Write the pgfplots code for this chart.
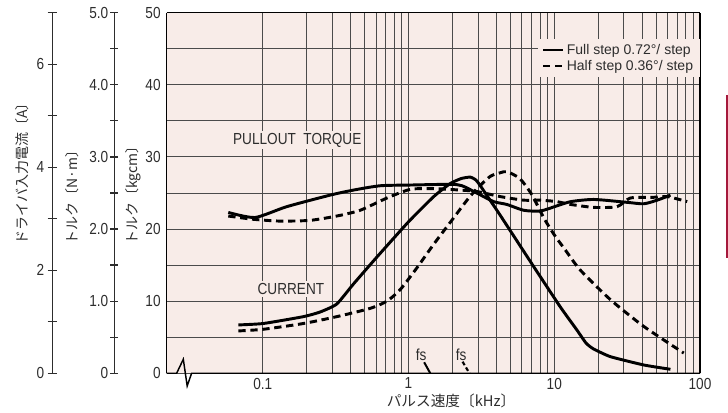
\documentclass[border=0pt]{standalone}
\usepackage{fontspec}
\setmainfont{Liberation Sans}
\newfontfamily\narrow{Liberation Sans}[FakeStretch=0.85]
\newfontfamily\jp{Noto Sans CJK JP}
\usepackage{pgfplots}
\pgfplotsset{compat=1.18}
\definecolor{chartbg}{RGB}{248,236,232}
\definecolor{gridc}{RGB}{75,75,75}
\definecolor{txt}{RGB}{45,45,45}
\definecolor{tabred}{RGB}{165,25,60}

\newcommand{\ticksize}{\narrow\fontsize{12}{12}\selectfont}
\newcommand{\jpsize}{\jp\fontsize{10.5}{12}\selectfont}

\begin{document}
\begin{tikzpicture}
\useasboundingbox (0pt,0pt) rectangle (546pt,309.75pt);

% current axis [A]
\begin{axis}[
  at={(39.2pt,29.8pt)}, anchor=south west,
  scale only axis, width=1pt, height=270.45pt,
  xmin=0, xmax=1, ymin=0, ymax=7,
  hide x axis, axis y line=left,
  axis line style={-, line width=0.9pt, txt},
  ytick={0,2,4,6}, minor ytick={1,3,5,7},
  tick align=center, major tick length=7pt, minor tick length=7pt,
  tick style={line width=0.9pt, txt},
  tick label style={font=\ticksize, text=txt},
  yticklabel style={xshift=1pt},
  /pgf/number format/assume math mode=true,
]
\addplot[draw=none] coordinates {(0,0)};
\end{axis}

% torque axis [N m]
\begin{axis}[
  at={(85.7pt,29.8pt)}, anchor=south west,
  scale only axis, width=1pt, height=270.45pt,
  xmin=0, xmax=1, ymin=0, ymax=5,
  hide x axis, axis y line=left,
  axis line style={-, line width=0.9pt, txt},
  ytick={0,1,2,3,4,5}, yticklabels={0,1.0,2.0,3.0,4.0,5.0},
  minor ytick={0.5,1.5,2.5,3.5,4.5},
  tick align=center, major tick length=6pt, minor tick length=6pt,
  tick style={line width=0.9pt, txt},
  tick label style={font=\ticksize, text=txt},
  yticklabel style={xshift=2pt},
]
\addplot[draw=none] coordinates {(0,0)};
\end{axis}

% main axis [kgcm]
\begin{axis}[
  at={(125pt,29.8pt)}, anchor=south west,
  scale only axis, width=400pt, height=270.45pt,
  xmode=log, xmin=0.02191, xmax=100, ymin=0, ymax=50,
  axis background/.style={fill=chartbg},
  xtick={0.1,1,10,100}, xticklabels={0.1,1,10,100},
  minor xtick={0.2,0.3,0.4,0.5,0.6,0.7,0.8,0.9,2,3,4,5,6,7,8,9,20,30,40,50,60,70,80,90},
  ytick={0,10,20,30,40,50}, minor ytick={5,15,25,35,45},
  grid=both,
  major grid style={gridc, line width=0.65pt},
  minor grid style={gridc, line width=0.65pt},
  major tick length=0pt, minor tick length=0pt,
  tick label style={font=\ticksize, text=txt},
  yticklabel style={xshift=-1pt},
  /pgf/number format/assume math mode=true,
  separate axis lines,
  x axis line style={draw=none},
  y axis line style={line width=1.1pt},
  clip=false,
  legend style={at={(1,0.929)}, anchor=north east, fill=chartbg, draw=none,
    font=\fontsize{10.5}{12}\selectfont, text=txt,
    inner xsep=3pt, inner ysep=2pt, row sep=-1pt, cells={anchor=west}},
  legend image code/.code={\draw[#1, line width=1.6pt] (0pt,0pt) -- (15pt,0pt);},
]
% pullout torque, full step
\addplot[black, line width=2.2pt, smooth, tension=0.4] coordinates {
(0.058,22.3) (0.0885,21.6) (0.146,23.1) (0.29,24.7) (0.419,25.4) (0.64,26.0)
(1.03,26.1) (1.93,26.2) (2.33,26.0) (3.0,24.9) (3.84,23.8) (4.74,23.4)
(6.17,22.6) (8.03,22.5) (10.4,23.2) (13.0,23.8) (18.7,24.1) (31.6,23.7)
(41.1,23.5) (50.8,24.0) (62.7,24.7)};
% pullout torque, half step
\addplot[black, line width=2.2pt, dash pattern=on 5.5pt off 3.5pt, smooth, tension=0.4] coordinates {
(0.058,21.8) (0.086,21.35) (0.131,21.1) (0.211,21.2) (0.322,21.8) (0.466,22.6)
(0.711,24.3) (1.03,25.5) (1.49,25.6) (2.26,25.4) (2.95,25.2) (4.26,24.5)
(6.17,24.0) (8.03,24.0) (10.4,23.8) (13.0,23.4) (18.7,23.0) (27.0,23.1)
(33.3,24.3) (48.2,24.4) (59.5,24.5) (81.7,23.8)};
% current, full step
\addplot[black, line width=2.2pt, smooth, tension=0.3, forget plot] coordinates {
(0.068,6.7) (0.101,6.9) (0.19,7.85) (0.248,8.5) (0.322,9.6) (0.42,12.4)
(0.6,16.0) (1.0,21.0) (1.49,24.5) (1.93,26.3) (2.3,27.0) (2.65,27.2)
(2.9,26.8) (3.11,26.0) (4.26,21.9) (7.22,14.8) (11.0,9.2) (14.3,6.0)
(16.5,4.2) (18.5,3.4) (24.3,2.3) (41.1,1.15) (62.7,0.55)};
% current, half step
\addplot[black, line width=2.2pt, dash pattern=on 5.5pt off 3.5pt, smooth, tension=0.4, forget plot] coordinates {
(0.068,5.87) (0.101,6.1) (0.19,6.9) (0.322,7.85) (0.546,9.0) (0.711,10.0)
(0.877,11.6) (1.14,14.6) (1.49,17.9) (1.93,20.9) (2.52,24.0) (2.95,25.6)
(3.64,27.3) (4.26,27.8) (4.74,27.95) (5.8,27.0) (7.0,24.8) (8.5,21.5)
(10.0,19.2) (12.0,17.0) (15.1,14.3) (24.3,10.2) (41.1,6.5) (77.4,2.8)};
% fs leaders
\addplot[black, line width=1.5pt, forget plot] coordinates {(1.28,1.53) (1.41,0)};
\addplot[black, line width=1.6pt, dash pattern=on 3pt off 2pt, forget plot] coordinates {(2.35,1.6) (2.62,0)};
\legend{Full step 0.72°/ step, Half step 0.36°/ step}

% frame top and broken bottom
\draw[line width=1.1pt] (rel axis cs:0,1) -- (rel axis cs:1,1);
\draw[line width=1.1pt, line join=miter]
  (rel axis cs:0,0) -- (axis cs:0.02565,0) -- (axis cs:0.0285,1.94)
  -- (axis cs:0.0303,-1.76) -- (axis cs:0.0325,0) -- (rel axis cs:1,0);

\node[fill=chartbg, inner sep=1.5pt, font=\ticksize, text=txt] at (axis cs:0.1725,32.35) {PULLOUT\ \ TORQUE};
\node[fill=chartbg, inner sep=1.5pt, font=\ticksize, text=txt] at (axis cs:0.156,11.7) {CURRENT};
\node[font=\ticksize, text=txt] at (axis cs:1.22,2.6) {fs};
\node[font=\ticksize, text=txt] at (axis cs:2.30,2.6) {fs};
\end{axis}

% axis titles
\node[rotate=90, anchor=west, inner sep=0pt, font=\jpsize, text=txt] at (99.75pt,126pt) {トルク〔kgcm〕};
\node[rotate=90, anchor=west, inner sep=0pt, font=\jpsize, text=txt] at (54pt,126pt) {トルク〔N·m〕};
\node[rotate=90, anchor=west, inner sep=0pt, font=\jpsize, text=txt] at (16.5pt,126pt) {ドライバ入力電流〔A〕};
\node[font=\jp\fontsize{11}{12}\selectfont, text=txt] at (338.25pt,9pt) {パルス速度〔kHz〕};

\draw[tabred, line width=1.5pt] (545pt,238.5pt) -- (545pt,116.25pt);
\end{tikzpicture}
\end{document}
